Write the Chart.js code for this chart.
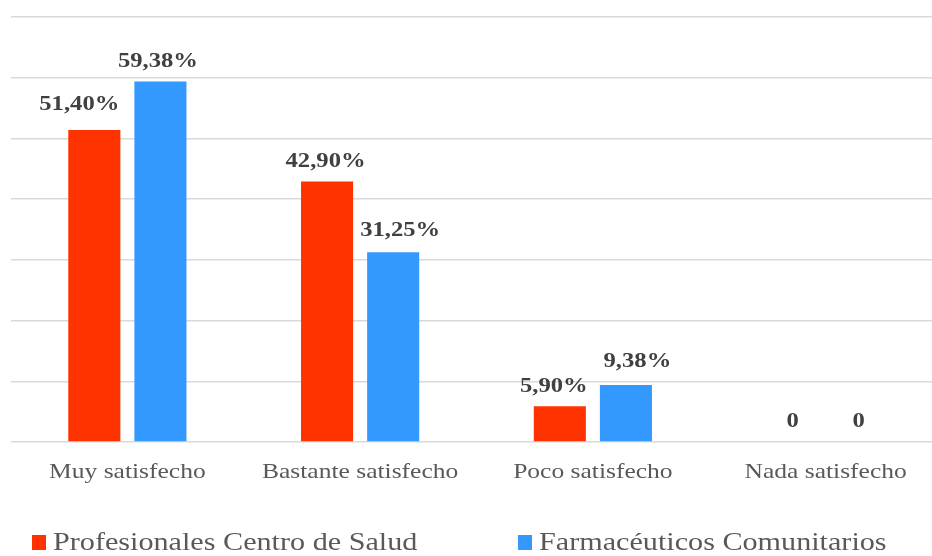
<!DOCTYPE html>
<html>
<head>
<meta charset="utf-8">
<script src="https://cdn.jsdelivr.net/npm/chart.js@4/dist/chart.umd.min.js"></script>
<style>
  html, body { margin: 0; padding: 0; background: #ffffff; overflow: hidden; }
  #wrap { width: 932px; height: 556px; overflow: hidden; position: relative; }
  canvas { display: block; }
</style>
</head>
<body>
<div id="wrap"><canvas id="c" width="950" height="556"></canvas></div>
<script>
// ---- data ----
const categories = ['Muy satisfecho', 'Bastante satisfecho', 'Poco satisfecho', 'Nada satisfecho'];
const seriesNames = ['Profesionales Centro de Salud', 'Farmacéuticos Comunitarios'];
const profesionales = [51.40, 42.90, 5.90, 0];
const farmaceuticos = [59.38, 31.25, 9.38, 0];
const profesionalesLabels = ['51,40%', '42,90%', '5,90%', '0'];
const farmaceuticosLabels = ['59,38%', '31,25%', '9,38%', '0'];
const yMin = 0, yMax = 70, yStep = 10;

// ---- styling ----
const colors = ['#FF3300', '#3399FF'];
const serif = "'Liberation Serif', 'Times New Roman', serif";
const stretch = 1.16;
const valueStretch = 1.12;
// manual label nudges (as placed in the original)
const labelNudge = [
  { dx: [-15, -1.5, -6, 0], gap: [20, 15, 14, 15] },
  { dx: [-2.5, 7, 11.5, 0], gap: [14, 16, 18, 15] }
];
const valueLabels = [profesionalesLabels, farmaceuticosLabels];

function stretchText(ctx, text, x, y, align, sx) {
  ctx.save();
  ctx.translate(x, y);
  ctx.scale(sx || stretch, 1);
  ctx.textAlign = align;
  ctx.textBaseline = 'alphabetic';
  ctx.fillText(text, 0, 0);
  ctx.restore();
}

const textPlugin = {
  id: 'textPlugin',
  afterDatasetsDraw(chart) {
    const ctx = chart.ctx;
    const xs = chart.scales.x;
    // value labels
    ctx.fillStyle = '#404040';
    ctx.font = 'bold 22px ' + serif;
    chart.data.datasets.forEach((ds, di) => {
      const meta = chart.getDatasetMeta(di);
      meta.data.forEach((bar, i) => {
        const p = bar.getProps(['x', 'y'], true);
        stretchText(ctx, valueLabels[di][i], p.x + labelNudge[di].dx[i], p.y - labelNudge[di].gap[i], 'center', valueStretch);
      });
    });
    // category labels
    ctx.fillStyle = '#595959';
    ctx.font = '22px ' + serif;
    categories.forEach((c, i) => {
      stretchText(ctx, c, xs.getPixelForValue(i), chart.chartArea.bottom + 36, 'center');
    });
    // legend
    const legendX = [32, 518];
    const legendY = 550;
    ctx.font = '26px ' + serif;
    chart.data.datasets.forEach((ds, di) => {
      ctx.fillStyle = ds.backgroundColor;
      ctx.fillRect(legendX[di], legendY - 15, 14, 15);
      ctx.fillStyle = '#595959';
      stretchText(ctx, ds.label, legendX[di] + 21, legendY, 'left');
    });
  }
};

new Chart(document.getElementById('c'), {
  type: 'bar',
  data: {
    labels: categories,
    datasets: [
      { label: seriesNames[0], data: profesionales, backgroundColor: colors[0], borderWidth: 0 },
      { label: seriesNames[1], data: farmaceuticos, backgroundColor: colors[1], borderWidth: 0 }
    ]
  },
  options: {
    responsive: false,
    devicePixelRatio: 1,
    animation: false,
    layout: { padding: { left: 11, right: 8, top: 17, bottom: 114 } },
    datasets: { bar: { categoryPercentage: 0.568, barPercentage: 0.788 } },
    plugins: { legend: { display: false }, tooltip: { enabled: false } },
    scales: {
      x: { display: false },
      y: {
        display: true,
        min: yMin, max: yMax,
        ticks: { display: false, stepSize: yStep },
        border: { display: false },
        grid: { color: '#d9d9d9', lineWidth: 1.5, drawTicks: false }
      }
    }
  },
  plugins: [textPlugin]
});
</script>
</body>
</html>
